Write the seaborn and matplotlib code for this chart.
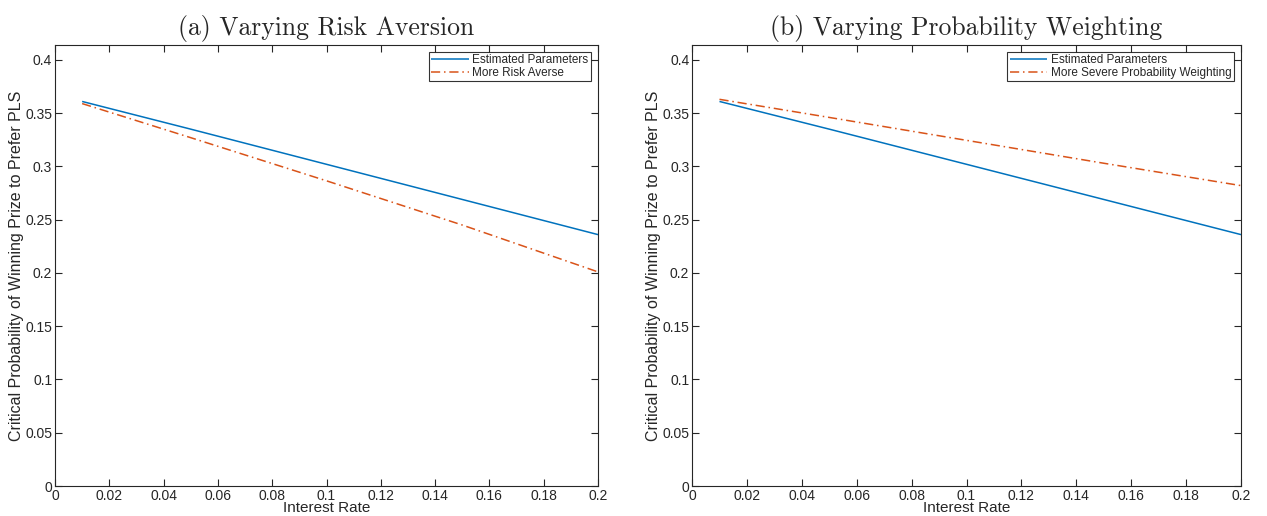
import numpy as np
import pandas as pd
import matplotlib
matplotlib.use("Agg")
import matplotlib.pyplot as plt
import seaborn as sns

# values
interest_rate = [0.01, 0.05, 0.10, 0.15, 0.20]
estimated = [0.361, 0.335, 0.302, 0.269, 0.236]
risk_averse = [0.359, 0.327, 0.2865, 0.245, 0.201]
severe_weighting = [0.363, 0.346, 0.3245, 0.303, 0.282]

titles = ["(a) Varying Risk Aversion", "(b) Varying Probability Weighting"]
alt_labels = ["More Risk Averse", "More Severe Probability Weighting"]
xticks = [0, 0.02, 0.04, 0.06, 0.08, 0.1, 0.12, 0.14, 0.16, 0.18, 0.2]
yticks = [0, 0.05, 0.1, 0.15, 0.2, 0.25, 0.3, 0.35, 0.4]

BLUE = "#0072BD"
ORANGE = "#D95319"
AXCOL = "#262626"

sns.set_style("ticks")
plt.rcParams["font.family"] = ["Liberation Sans", "DejaVu Sans"]

fig = plt.figure(figsize=(12.67, 5.16), dpi=100)
axes = [fig.add_axes([0.0434, 0.0581, 0.4286, 0.8547]),
        fig.add_axes([0.5462, 0.0581, 0.4333, 0.8547])]


def fmt(v):
    return "0" if v == 0 else ("%g" % v)


for ax, title, alt, alt_vals in zip(axes, titles, alt_labels, [risk_averse, severe_weighting]):
    df = pd.DataFrame({
        "rate": interest_rate * 2,
        "prob": estimated + alt_vals,
        "series": ["Estimated Parameters"] * len(interest_rate) + [alt] * len(interest_rate),
    })
    sns.lineplot(data=df, x="rate", y="prob", hue="series", style="series",
                 palette=[BLUE, ORANGE], dashes=[(1, 0), (6, 2.5, 1, 2.5)],
                 linewidth=1.1, ax=ax)

    ax.set_xlim(0, 0.2)
    ax.set_ylim(0, 0.414)
    ax.set_xticks(xticks)
    ax.set_xticklabels([fmt(v) for v in xticks])
    ax.set_yticks(yticks)
    ax.set_yticklabels([fmt(v) for v in yticks])
    ax.tick_params(direction="in", length=5, width=0.8, top=True, right=True,
                   labelsize=10, colors=AXCOL, pad=2)
    for s in ax.spines.values():
        s.set_visible(True)
        s.set_color(AXCOL)
        s.set_linewidth(0.8)
    ax.set_xlabel("Interest Rate", fontsize=11, color=AXCOL, labelpad=-1)
    ax.set_ylabel("Critical Probability of Winning Prize to Prefer PLS",
                  fontsize=11.5, color=AXCOL, labelpad=1)
    ax.set_title(title, fontsize=18.5, family="cmr10", pad=7)

    leg = ax.legend(loc="upper right", fontsize=8.5, frameon=True, fancybox=False,
                    handlelength=3.2, handletextpad=0.3, borderpad=0.2,
                    labelspacing=0.05, borderaxespad=0.6)
    leg.get_frame().set_edgecolor("black")
    leg.get_frame().set_linewidth(0.8)
    leg.set_title(None)

fig.savefig("out.png", dpi=100)
